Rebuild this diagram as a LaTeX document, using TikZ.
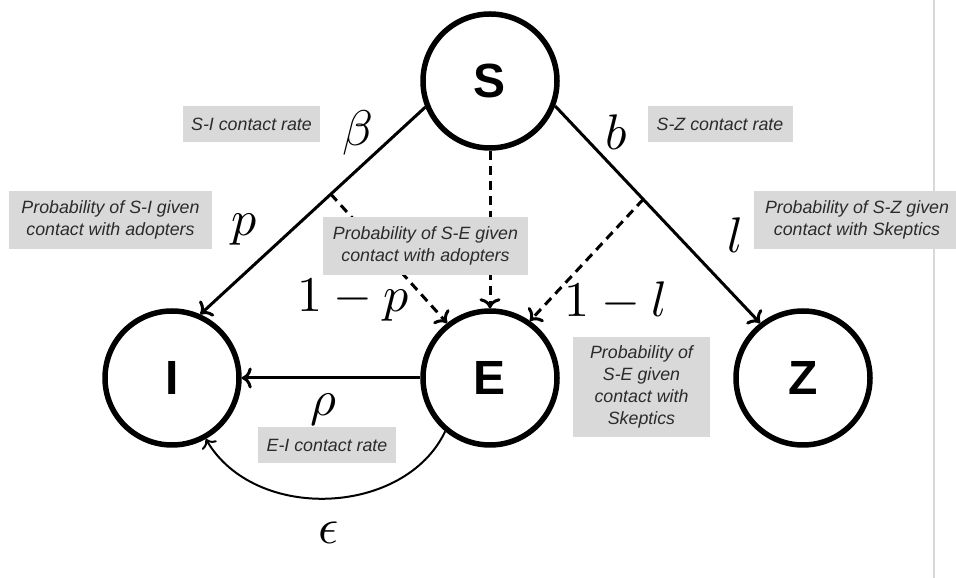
\documentclass[tikz,border=0pt]{standalone}
\usepackage{graphicx}
\usepackage{fontspec}
\newfontfamily\boxfont{Liberation Sans}
\usetikzlibrary{arrows.meta}
\definecolor{boxgray}{HTML}{D9D9D9}
\definecolor{boxtext}{HTML}{2B2B2B}
\definecolor{edgeline}{HTML}{D8D8D8}
% large math symbol built from the 10pt math fonts
\newcommand{\bigsym}[1]{\scalebox{5}{$#1$}}
\begin{document}
\begin{tikzpicture}[x=1pt,y=1pt,
  state/.style={circle, draw, line width=5.5pt, minimum size=134pt, inner sep=0pt,
    font=\boxfont\bfseries\fontsize{48}{48}\selectfont},
  flow/.style={line width=3pt, -{To[length=10pt,width=21pt]}},
  maybe/.style={flow, dash pattern=on 9pt off 6pt},
  note/.style={fill=boxgray, text=boxtext, align=center, inner sep=0pt,
    font=\boxfont\itshape\fontsize{17.8}{22}\selectfont},
  sym/.style={inner sep=0pt}
]
\useasboundingbox (0,0) rectangle (956,578);

% page edge rule
\draw[edgeline, line width=1.5pt] (934,0) -- (934,578);

% compartments
\node[state] (S) at (490,497) {S};
\node[state] (I) at (172,200) {I};
\node[state] (E) at (490,200) {E};
\node[state] (Z) at (803,200) {Z};

% main flows
\draw[flow] (S.202) -- (I.66) coordinate[pos=0.42] (si);
\draw[flow] (S.-21) -- (Z.128) coordinate[pos=0.43] (sz);
\draw[maybe] (S.south) -- (E.north);
\draw[maybe] (si) -- (E.128);
\draw[maybe] (sz) -- (E.55);
\draw[flow] (E.180) -- (I.0);
\draw[line width=2pt, -{To[length=8pt,width=17pt]}]
  (E.230) .. controls (405,62) and (255,55) .. (I.-61);

% annotations
\node[note, minimum width=137pt, minimum height=36pt] (nSI) at (251.5,454) {S-I contact rate};
\node[note, minimum width=145pt, minimum height=36pt] (nSZ) at (720,454) {S-Z contact rate};
\node[note, minimum width=203pt, minimum height=58pt] (nPSI) at (110.5,358)
  {Probability of S-I given\\contact with adopters};
\node[note, minimum width=206pt, minimum height=58pt] (nPSZ) at (857,358)
  {Probability of S-Z given\\contact with Skeptics};
\node[note, minimum width=205pt, minimum height=58pt] (nPSEa) at (425.5,332)
  {Probability of S-E given\\contact with adopters};
\node[note, minimum width=137pt, minimum height=100pt] (nPSEs) at (641.5,191)
  {Probability of\\S-E given\\contact with\\Skeptics};
\node[note, minimum width=138pt, minimum height=36pt] (nEI) at (327,133) {E-I contact rate};

% rate symbols
\node[sym] (beta) at (358,445) {\bigsym{\beta}};
\node[sym] (b) at (616,446) {\bigsym{b}};
\node[sym] (p) at (244,348) {\bigsym{p}};
\node[sym] (l) at (735,343) {\bigsym{l}};
\node[sym] (onep) at (353,278) {\bigsym{1-p}};
\node[sym] (onel) at (616,277) {\bigsym{1-l}};
\node[sym] (rho) at (323,168) {\bigsym{\rho}};
\node[sym] (eps) at (329,45) {\bigsym{\epsilon}};
\end{tikzpicture}
\end{document}
